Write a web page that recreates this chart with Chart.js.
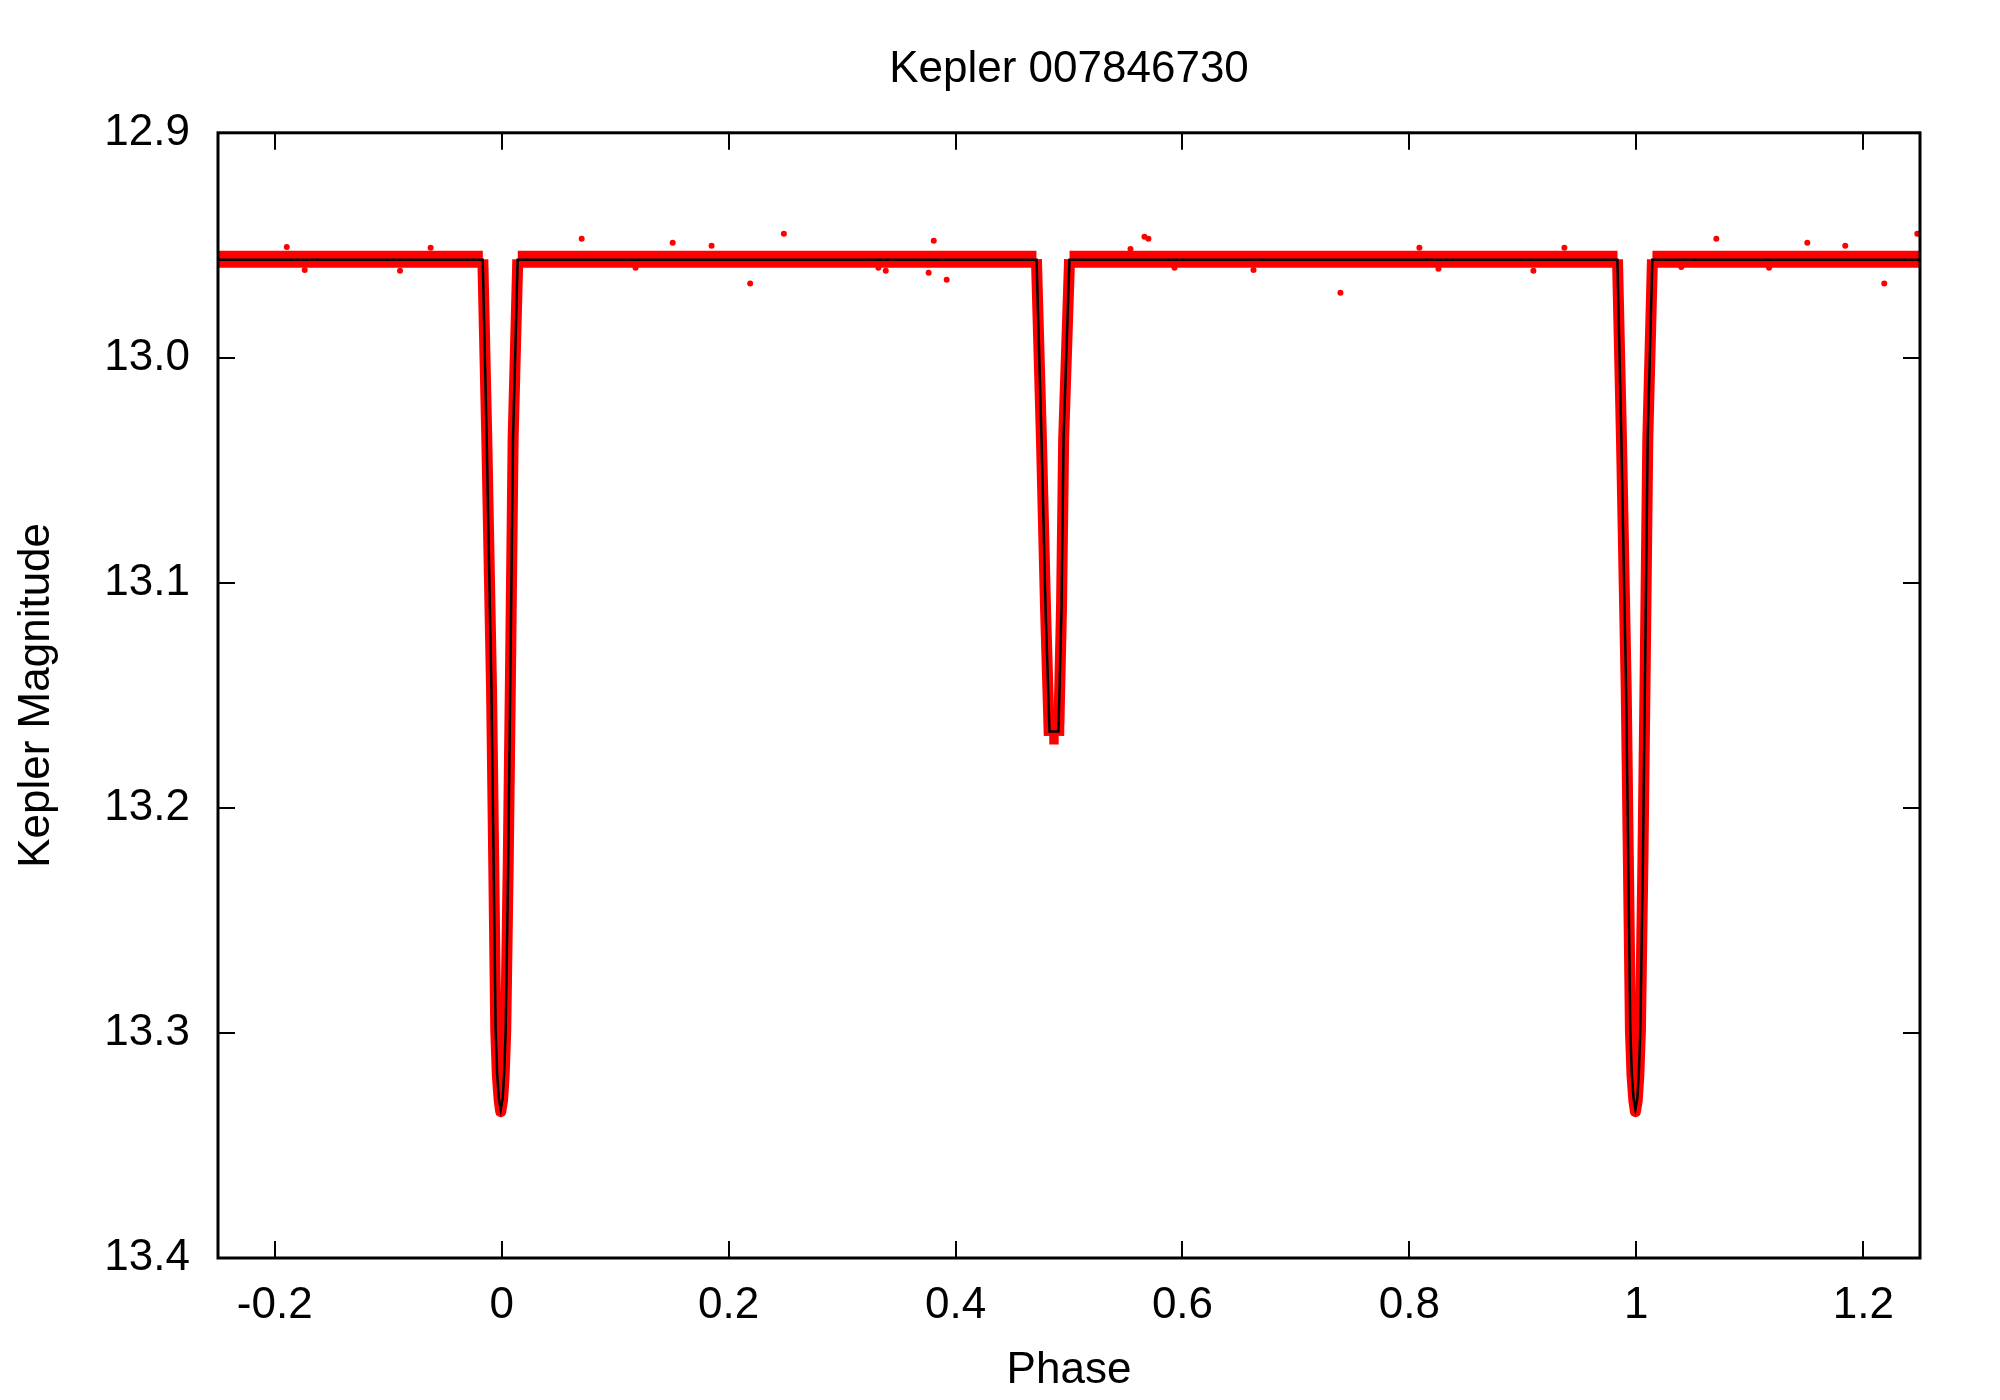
<!DOCTYPE html>
<html>
<head>
<meta charset="utf-8">
<title>Kepler 007846730</title>
<script src="https://cdn.jsdelivr.net/npm/chart.js@4.4.1/dist/chart.umd.min.js"></script>
<style>
  html, body { margin: 0; padding: 0; background: #fff; }
  #wrap { width: 2000px; height: 1400px; }
</style>
</head>
<body>
<div id="wrap"><canvas id="lc" width="2000" height="1400"></canvas></div>
<script>
  // tick values
  const xTicks = [-0.2, 0, 0.2, 0.4, 0.6, 0.8, 1, 1.2];
  const yTicks = [12.9, 13.0, 13.1, 13.2, 13.3, 13.4];

  // black model curve (phase, Kepler mag)
  const modelPhase = [
    -0.25,
    -0.0167, -0.0132, -0.0090, -0.0071, -0.0053, -0.0040, -0.0025, -0.0008,
    0.0009, 0.0022, 0.0035, 0.0058, 0.0075, 0.0100, 0.0141,
    0.4714, 0.4758, 0.4793, 0.4828, 0.4907, 0.4934, 0.4952, 0.5004,
    0.9833, 0.9868, 0.9910, 0.9929, 0.9947, 0.9960, 0.9975, 0.9992,
    1.0009, 1.0022, 1.0035, 1.0058, 1.0075, 1.0100, 1.0141,
    1.25,
  ];
  const modelMag = [
    12.9564,
    12.9564, 13.036, 13.148, 13.224, 13.299, 13.318, 13.329, 13.334,
    13.329, 13.318, 13.299, 13.224, 13.148, 13.036, 12.9564,
    12.9564, 13.036, 13.111, 13.166, 13.166, 13.111, 13.036, 12.9564,
    12.9564, 13.036, 13.148, 13.224, 13.299, 13.318, 13.329, 13.334,
    13.329, 13.318, 13.299, 13.224, 13.148, 13.036, 12.9564,
    12.9564,
  ];

  // red observations: dense band, traced as its centre line
  const obsPhase = [
    -0.25,
    -0.0166, -0.0131, -0.0089, -0.0070, -0.0052, -0.0038, -0.0022, -0.0008,
    0.0008, 0.0022, 0.0036, 0.0058, 0.0076, 0.0101, 0.0142,
    0.4713, 0.4757, 0.4793, 0.4826, 0.4909, 0.4934, 0.4953, 0.5005,
    0.9834, 0.9869, 0.9911, 0.9930, 0.9948, 0.9962, 0.9978, 0.9992,
    1.0008, 1.0022, 1.0036, 1.0058, 1.0076, 1.0101, 1.0142,
    1.25,
  ];
  const obsMag = [
    12.9562,
    12.9562, 13.036, 13.148, 13.224, 13.299, 13.319, 13.330, 13.335,
    13.330, 13.319, 13.299, 13.224, 13.148, 13.036, 12.9562,
    12.9562, 13.036, 13.111, 13.168, 13.168, 13.111, 13.036, 12.9562,
    12.9562, 13.036, 13.148, 13.224, 13.299, 13.319, 13.330, 13.335,
    13.330, 13.319, 13.299, 13.224, 13.148, 13.036, 12.9562,
    12.9562,
  ];

  // stray points outside the band
  const outPhase = [
    -0.1894, -0.1736, -0.0896, -0.0626, 0.0705, 0.1180, 0.1507, 0.1850,
    0.2190, 0.2487, 0.3320, 0.3385, 0.3763, 0.3808, 0.3922, 0.5542,
    0.5665, 0.5700, 0.5930, 0.6626, 0.7392, 0.8088, 0.8256, 0.9093,
    0.9366, 1.0396, 1.0705, 1.1170, 1.1507, 1.1841, 1.2185, 1.2476,
  ];
  const outMag = [
    12.9507, 12.9610, 12.9613, 12.9511, 12.9471, 12.9600, 12.9489, 12.9502,
    12.9670, 12.9449, 12.9600, 12.9613, 12.9622, 12.9480, 12.9653, 12.9516,
    12.9462, 12.9471, 12.9600, 12.9610, 12.9711, 12.9511, 12.9604, 12.9613,
    12.9511, 12.9596, 12.9471, 12.9600, 12.9489, 12.9502, 12.9670, 12.9449,
  ];

  const FONT = "'Liberation Sans', Arial, Helvetica, sans-serif";
  const TICK_LEN = 17;

  const toPts = (xs, ys) => xs.map((x, i) => ({ x, y: ys[i] }));

  // inward tick marks on all four sides plus the plot frame
  const framePlugin = {
    id: "frame",
    afterDraw(chart) {
      const { ctx, chartArea: a, scales } = chart;
      const x = scales.x;
      const y = scales.y;
      ctx.save();
      ctx.strokeStyle = "#000";
      ctx.lineWidth = 2;
      ctx.beginPath();
      x.ticks.forEach((t) => {
        const px = Math.round(x.getPixelForValue(t.value));
        ctx.moveTo(px, a.bottom);
        ctx.lineTo(px, a.bottom - TICK_LEN);
        ctx.moveTo(px, a.top);
        ctx.lineTo(px, a.top + TICK_LEN);
      });
      y.ticks.forEach((t) => {
        const py = Math.round(y.getPixelForValue(t.value));
        ctx.moveTo(a.left, py);
        ctx.lineTo(a.left + TICK_LEN, py);
        ctx.moveTo(a.right, py);
        ctx.lineTo(a.right - TICK_LEN, py);
      });
      ctx.stroke();
      ctx.lineWidth = 3;
      ctx.strokeRect(a.left, a.top, a.right - a.left, a.bottom - a.top);
      ctx.restore();
    },
  };

  Chart.defaults.font.family = FONT;
  Chart.defaults.font.size = 44;
  Chart.defaults.color = "#000";

  new Chart(document.getElementById("lc"), {
    type: "scatter",
    data: {
      datasets: [
        {
          label: "model",
          data: toPts(modelPhase, modelMag),
          showLine: true,
          borderColor: "#000000",
          borderWidth: 2.5,
          pointRadius: 0,
          tension: 0,
          order: 0,
          clip: 0,
        },
        {
          label: "observed",
          data: toPts(obsPhase, obsMag),
          showLine: true,
          borderColor: "#ff0000",
          borderWidth: 11,
          borderJoinStyle: "round",
          pointRadius: 0,
          tension: 0,
          segment: {
            borderWidth: (c) => (c.p0.parsed.y === c.p1.parsed.y ? 17 : 11),
          },
          order: 1,
          clip: 0,
        },
        {
          label: "outliers",
          data: toPts(outPhase, outMag),
          backgroundColor: "#ff0000",
          borderColor: "#ff0000",
          pointRadius: 3,
          pointBorderWidth: 0,
          order: 2,
          clip: 0,
        },
      ],
    },
    options: {
      responsive: false,
      animation: false,
      devicePixelRatio: 1,
      layout: { padding: { left: 0, right: 80, top: 0, bottom: 0 } },
      plugins: {
        legend: { display: false },
        tooltip: { enabled: false },
        title: {
          display: true,
          fullSize: false,
          text: "Kepler 007846730",
          color: "#000",
          font: { size: 44, weight: "normal", family: FONT },
          padding: { top: 43, bottom: 37 },
        },
      },
      scales: {
        x: {
          type: "linear",
          min: -0.25,
          max: 1.25,
          afterBuildTicks: (s) => { s.ticks = xTicks.map((v) => ({ value: v })); },
          afterFit: (s) => { s.height = 142; },
          grid: { display: false },
          border: { display: false },
          ticks: {
            padding: 13,
            maxRotation: 0,
            font: { size: 44 },
            callback: (v) => String(Math.round(v * 10) / 10),
          },
          title: { display: true, text: "Phase", font: { size: 44 }, padding: { top: 0, bottom: 3 } },
        },
        y: {
          type: "linear",
          reverse: true,
          min: 12.9,
          max: 13.4,
          afterBuildTicks: (s) => { s.ticks = yTicks.map((v) => ({ value: v })); },
          afterFit: (s) => { s.width = 218; },
          grid: { display: false },
          border: { display: false },
          ticks: {
            padding: 20,
            font: { size: 44 },
            callback: (v) => v.toFixed(1),
          },
          title: { display: true, text: "Kepler Magnitude", font: { size: 44 }, padding: { top: 10, bottom: 0 } },
        },
      },
    },
    plugins: [framePlugin],
  });
</script>
</body>
</html>
